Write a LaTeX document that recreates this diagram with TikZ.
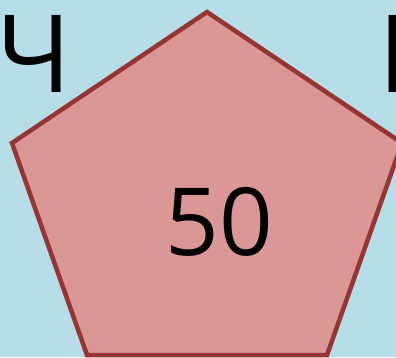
\documentclass[tikz,border=0pt]{standalone}
\usepackage{fontspec}
\setmainfont{Open Sans}
\usetikzlibrary{positioning}
\definecolor{bgblue}{RGB}{183,222,232}
\definecolor{penfill}{RGB}{219,150,150}
\definecolor{penline}{RGB}{150,54,52}
\begin{document}
\begin{tikzpicture}[
  x=1pt, y=-1pt,
  letter/.style={anchor=base west, inner sep=0pt, font=\fontsize{108}{108}\selectfont},
  value/.style={anchor=base, inner sep=0pt, font=\fontsize{94}{94}\selectfont}
]
  \useasboundingbox (0,0) rectangle (396,357);
  \clip (0,0) rectangle (396,357);
  \fill[bgblue] (0,0) rectangle (396,357);

  % pentagon
  \coordinate (ptop) at (207,12);
  \coordinate (pright) at (402,143);
  \coordinate (pbr) at (327,355);
  \coordinate (pbl) at (87,355);
  \coordinate (pleft) at (12,143);
  \draw[penline, fill=penfill, line width=4.5pt, line join=miter]
    (ptop) -- (pright) -- (pbr) -- (pbl) -- (pleft) -- cycle;

  \node[value] (num) at (219,255) {50};
  \node[letter] (che) at (-4,92) {Ч};
  \node[letter] (ka) at (378,92) {К};
\end{tikzpicture}
\end{document}
